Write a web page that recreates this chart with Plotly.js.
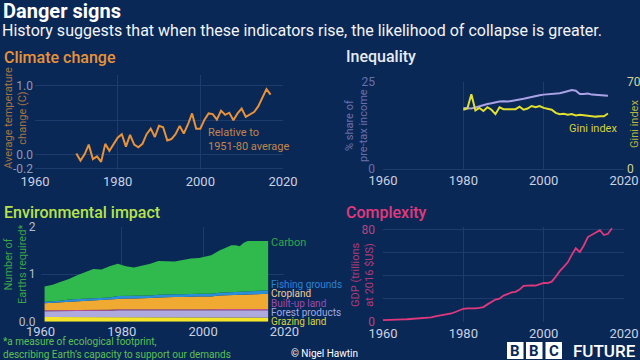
<!DOCTYPE html>
<html><head><meta charset="utf-8">
<script src="https://cdn.plot.ly/plotly-3.0.1.min.js"></script>
<style>html,body{margin:0;padding:0;background:#0a2856;}#chart{width:640px;height:360px;}</style>
</head><body><div id="chart"></div>
<script>
// ---------- DATA ----------
const climateYears = [1970,1971,1972,1973,1974,1975,1976,1977,1978,1979,1980,1981,1982,1983,1984,1985,1986,1987,1988,1989,1990,1991,1992,1993,1994,1995,1996,1997,1998,1999,2000,2001,2002,2003,2004,2005,2006,2007,2008,2009,2010,2011,2012,2013,2014,2015,2016,2017];
const tempChange = [0.02,-0.08,0.01,0.15,-0.06,-0.02,-0.10,0.16,0.06,0.15,0.25,0.30,0.12,0.29,0.15,0.11,0.16,0.30,0.38,0.26,0.42,0.40,0.21,0.23,0.30,0.42,0.31,0.44,0.60,0.38,0.38,0.51,0.60,0.59,0.51,0.64,0.58,0.61,0.50,0.60,0.67,0.55,0.59,0.62,0.70,0.83,0.95,0.87];

const ineqYears = [1980,1981,1982,1983,1984,1985,1986,1987,1988,1989,1990,1991,1992,1993,1994,1995,1996,1997,1998,1999,2000,2001,2002,2003,2004,2005,2006,2007,2008,2009,2010,2011,2012,2013,2014,2015,2016];
const incomeShare = [17.5,17.4,17.3,17.6,18.0,18.4,18.6,18.8,19.1,19.3,19.4,19.3,19.5,19.8,19.9,20.1,20.4,20.7,20.9,21.1,21.3,21.4,21.4,21.5,21.7,22.0,22.4,22.6,22.4,21.5,21.5,21.6,21.3,21.2,21.2,21.2,21.0];
const giniIndex = [47.5,48.5,60.0,47.0,49.0,46.5,49.5,47.5,44.0,49.5,48.0,48.0,48.5,48.0,50.0,47.5,48.5,50.5,49.5,50.5,49.0,48.0,47.5,45.0,44.0,44.3,43.5,44.0,43.0,43.5,43.0,42.5,42.0,42.0,42.3,42.3,44.5];

const envYears = [1961,1963,1965,1967,1969,1971,1973,1975,1977,1979,1981,1983,1985,1987,1989,1991,1993,1995,1997,1999,2001,2002,2004,2006,2007,2008,2009,2010,2011,2013,2016];
const grazingLand = [0.10,0.10,0.10,0.10,0.10,0.10,0.10,0.10,0.10,0.10,0.10,0.09,0.09,0.09,0.09,0.09,0.09,0.09,0.09,0.09,0.09,0.09,0.09,0.09,0.09,0.09,0.09,0.09,0.09,0.09,0.09];
const forestProducts = [0.12,0.12,0.12,0.13,0.13,0.13,0.13,0.13,0.13,0.14,0.14,0.14,0.14,0.14,0.14,0.14,0.14,0.14,0.14,0.14,0.14,0.14,0.15,0.15,0.15,0.15,0.15,0.15,0.15,0.15,0.15];
const builtUpLand = [0.02,0.02,0.02,0.02,0.02,0.02,0.02,0.02,0.02,0.02,0.02,0.02,0.02,0.02,0.02,0.03,0.03,0.03,0.03,0.03,0.03,0.03,0.03,0.03,0.03,0.03,0.03,0.03,0.03,0.03,0.03];
const cropland = [0.15,0.16,0.17,0.18,0.19,0.20,0.21,0.21,0.22,0.23,0.23,0.24,0.24,0.25,0.26,0.26,0.26,0.26,0.27,0.27,0.27,0.27,0.28,0.29,0.29,0.30,0.30,0.30,0.31,0.31,0.32];
const fishingGrounds = [0.03,0.03,0.03,0.04,0.04,0.04,0.04,0.04,0.04,0.05,0.05,0.05,0.05,0.05,0.06,0.06,0.06,0.06,0.06,0.06,0.06,0.06,0.06,0.06,0.06,0.06,0.06,0.07,0.07,0.07,0.07];
const carbon = [0.32,0.35,0.40,0.43,0.50,0.56,0.61,0.60,0.66,0.68,0.63,0.60,0.64,0.67,0.71,0.70,0.69,0.72,0.74,0.75,0.79,0.81,0.89,0.96,0.99,0.98,0.96,1.02,1.05,1.05,1.04];

const gdpYears = [1960,1961,1962,1963,1964,1965,1966,1967,1968,1969,1970,1971,1972,1973,1974,1975,1976,1977,1978,1979,1980,1981,1982,1983,1984,1985,1986,1987,1988,1989,1990,1991,1992,1993,1994,1995,1996,1997,1998,1999,2000,2001,2002,2003,2004,2005,2006,2007,2008,2009,2010,2011,2012,2013,2014,2015,2016,2017];
const gdpTrillions = [1.4,1.4,1.5,1.6,1.8,2.0,2.1,2.3,2.4,2.7,3.0,3.2,3.7,4.6,5.3,5.9,6.3,7.1,8.4,9.8,11.2,11.5,11.3,11.6,12.0,12.7,15.0,17.1,19.2,20.0,22.6,23.9,25.4,25.9,27.8,31.0,31.5,31.4,31.3,32.5,33.6,33.4,34.7,38.9,43.8,47.4,51.4,57.9,63.6,60.3,66.0,73.3,75.0,77.2,79.3,75.0,76.1,80.9];

const yearTicks = [1960,1980,2000,2020];

// ---------- STYLE ----------
const BG = '#0a2856';
const GRID = '#1c3c6e';
const FONT = 'Roboto, "Liberation Sans", sans-serif';
const px = v => v/640, py = v => 1 - v/360;

function xAxis(d, standoff){
  return {domain:d, range:[1960,2020], tickvals:yearTicks, ticktext:yearTicks.map(String),
    showgrid:false, zeroline:false, showline:false, ticks:'', fixedrange:true, ticklabelstandoff:standoff,
    tickfont:{family:FONT,size:13,color:'#c9d1e2'},
    minor:{tickvals:[1980,2000], showgrid:true, gridcolor:GRID, gridwidth:1, ticks:''}};
}

const traces = [
  {x:climateYears, y:tempChange, xaxis:'x', yaxis:'y', type:'scatter', mode:'lines',
   line:{color:'#e8923a', width:2}, hoverinfo:'skip'},
  {x:ineqYears, y:incomeShare, xaxis:'x2', yaxis:'y2', type:'scatter', mode:'lines',
   line:{color:'#a9a2e6', width:2}, hoverinfo:'skip'},
  {x:ineqYears, y:giniIndex, xaxis:'x2', yaxis:'y5', type:'scatter', mode:'lines',
   line:{color:'#e2e02e', width:2}, hoverinfo:'skip'},
  {x:envYears, y:grazingLand, xaxis:'x3', yaxis:'y3', type:'scatter', mode:'lines', stackgroup:'env',
   line:{width:0, color:'#f4e42a'}, fillcolor:'#f4e42a', hoverinfo:'skip'},
  {x:envYears, y:forestProducts, xaxis:'x3', yaxis:'y3', type:'scatter', mode:'lines', stackgroup:'env',
   line:{width:0, color:'#aeaadd'}, fillcolor:'#aeaadd', hoverinfo:'skip'},
  {x:envYears, y:builtUpLand, xaxis:'x3', yaxis:'y3', type:'scatter', mode:'lines', stackgroup:'env',
   line:{width:0, color:'#c0508e'}, fillcolor:'#c0508e', hoverinfo:'skip'},
  {x:envYears, y:cropland, xaxis:'x3', yaxis:'y3', type:'scatter', mode:'lines', stackgroup:'env',
   line:{width:0, color:'#f0aa32'}, fillcolor:'#f0aa32', hoverinfo:'skip'},
  {x:envYears, y:fishingGrounds, xaxis:'x3', yaxis:'y3', type:'scatter', mode:'lines', stackgroup:'env',
   line:{width:0, color:'#2a8fd8'}, fillcolor:'#2a8fd8', hoverinfo:'skip'},
  {x:envYears, y:carbon, xaxis:'x3', yaxis:'y3', type:'scatter', mode:'lines', stackgroup:'env',
   line:{width:0, color:'#30b94c'}, fillcolor:'#30b94c', hoverinfo:'skip'},
  {x:gdpYears, y:gdpTrillions, xaxis:'x4', yaxis:'y4', type:'scatter', mode:'lines',
   line:{color:'#e0387c', width:1.8}, hoverinfo:'skip'}
];

function ann(text, x, y, size, color, opts){
  return Object.assign({text:text, x:px(x), y:py(y), xref:'paper', yref:'paper',
    xanchor:'left', yanchor:'middle', showarrow:false, align:'left',
    font:{family:FONT, size:size, color:color}}, opts||{});
}
function head(text, x, y, color){
  return ann(text, x, y, 16, color, {font:{family:FONT,size:16,color:color,weight:500}});
}
function vtitle(text, x, y, color){
  return {text:text, x:px(x), y:py(y), xref:'paper', yref:'paper', xanchor:'center', yanchor:'middle',
    showarrow:false, textangle:-90, align:'center', font:{family:FONT, size:11, color:color}};
}
function logoLetter(t, x){
  return {text:'<b>'+t+'</b>', x:px(x), y:py(350.5), xref:'paper', yref:'paper', xanchor:'center', yanchor:'middle',
    showarrow:false, font:{family:FONT,size:15,color:BG}};
}

const annotations = [
  ann('<b>Danger signs</b>', 1, 11, 20, '#ffffff'),
  ann('History suggests that when these indicators rise, the likelihood of collapse is greater.', 0, 30, 16, '#f2f4f8'),
  head('Climate change', 2, 58, '#e8923a'),
  head('Inequality', 344, 56, '#e6ebf4'),
  head('Environmental impact', 2, 212, '#b6e34c'),
  head('Complexity', 344, 212, '#e2387c'),
  vtitle('Average temperature<br>change (C)', 16, 118, '#a8743e'),
  vtitle('% share of<br>pre-tax income', 357, 126, '#6a70ae'),
  vtitle('Gini index', 634, 124, '#b4b43c'),
  vtitle('Number of<br>Earths required*', 15, 265, '#3ba446'),
  vtitle('GDP (trillions<br>at 2016 $US)', 362, 275, '#b13a76'),
  ann('Relative to<br>1951-80 average', 206, 140, 11, '#c0864c'),
  ann('Gini index', 567, 128, 11, '#d6d23e'),
  ann('Carbon', 269, 242, 11, '#2fa84a'),
  ann('Fishing grounds', 269, 284, 10, '#2c82d6'),
  ann('Cropland', 269, 293.5, 10, '#f2cc96'),
  ann('Built-up land', 269, 303, 10, '#9c4cae'),
  ann('Forest products', 269, 312.5, 10, '#a2a8e0'),
  ann('Grazing land', 269, 321.5, 10, '#d9d23e'),
  ann('*a measure of ecological footprint,<br>describing Earth\u2019s capacity to support our demands', 1, 348, 10, '#5cc052'),
  ann('\u00a9 Nigel Hawtin', 289, 353, 10, '#ffffff'),
  logoLetter('B', 515.2), logoLetter('B', 534.2), logoLetter('C', 553.8),
  ann('FUTURE', 571, 350.5, 17, '#ffffff', {font:{family:FONT,size:17,color:'#ffffff',weight:500}})
];

const shapes = [
  {type:'rect', xref:'paper', yref:'paper', x0:px(507), x1:px(523.5), y0:py(359), y1:py(342), fillcolor:'#ffffff', line:{width:0}},
  {type:'rect', xref:'paper', yref:'paper', x0:px(526), x1:px(542.5), y0:py(359), y1:py(342), fillcolor:'#ffffff', line:{width:0}},
  {type:'rect', xref:'paper', yref:'paper', x0:px(545.5), x1:px(562), y0:py(359), y1:py(342), fillcolor:'#ffffff', line:{width:0}}
];

const layout = {
  width:640, height:360, margin:{l:0,r:0,t:0,b:0},
  paper_bgcolor:BG, plot_bgcolor:BG, showlegend:false,
  font:{family:FONT, color:'#c9d1e2'},
  xaxis: xAxis([px(35), px(283)], 2),
  yaxis: {domain:[py(170.2), py(75.3)], range:[-0.22,1.15], anchor:'x',
    tickvals:[-0.2,0,0.5,1.0], ticktext:['-0.2','0.0','','1.0'],
    showgrid:true, gridcolor:GRID, zeroline:false, ticks:'', fixedrange:true, ticklabelstandoff:1,
    tickfont:{family:FONT,size:12,color:'#8e99b3'}},
  xaxis2: Object.assign(xAxis([px(383), px(624)], 2), {anchor:'y2'}),
  yaxis2: {domain:[py(169), py(81.7)], range:[0,25], anchor:'x2',
    tickvals:[0,25], showgrid:false, zeroline:true, zerolinecolor:GRID, ticks:'', fixedrange:true, ticklabelstandoff:7,
    tickfont:{family:FONT,size:12,color:'#6a70ae'}},
  yaxis5: {overlaying:'y2', side:'right', range:[0,70], anchor:'x2',
    tickvals:[0,70], showgrid:false, zeroline:false, ticks:'', fixedrange:true, ticklabelstandoff:2,
    tickfont:{family:FONT,size:12,color:'#d4d49a'}},
  xaxis3: Object.assign(xAxis([px(40.5), px(284.4)], 0), {anchor:'y3'}),
  yaxis3: {domain:[py(321.7), py(226.7)], range:[0,2], anchor:'x3',
    tickvals:[0,1,2], ticktext:['0.0','1','2'], showgrid:true, gridcolor:GRID, zeroline:false, ticks:'', fixedrange:true, ticklabelstandoff:4,
    tickfont:{family:FONT,size:12,color:'#b4bccc'}},
  xaxis4: Object.assign(xAxis([px(383), px(624)], 2), {anchor:'y4'}),
  yaxis4: {domain:[py(321.7), py(227)], range:[0,82], anchor:'x4',
    tickvals:[0,20,40,60,80], ticktext:['0','','','','80'], showgrid:true, gridcolor:GRID, zeroline:false, ticks:'', fixedrange:true, ticklabelstandoff:7,
    tickfont:{family:FONT,size:12,color:'#b2467e'}},
  annotations: annotations,
  shapes: shapes
};

Plotly.newPlot('chart', traces, layout, {displayModeBar:false, staticPlot:true});
</script>
</body></html>
